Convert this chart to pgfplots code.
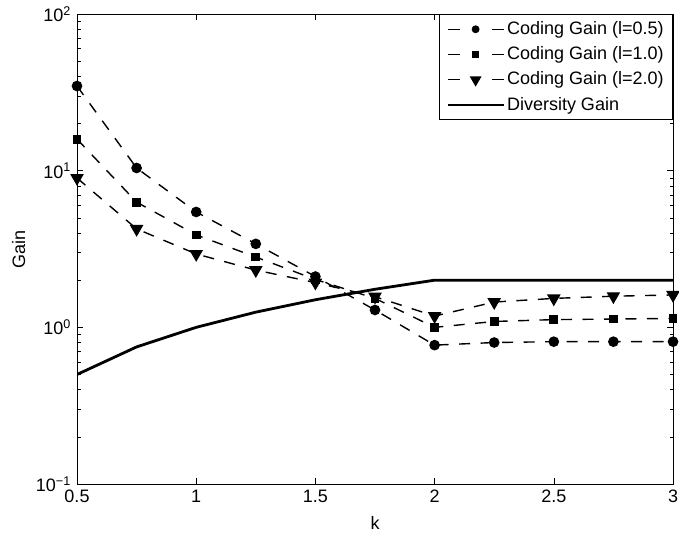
\documentclass[border=0pt]{standalone}
\usepackage{fontspec}
\setmainfont{Liberation Sans}
\usepackage{pgfplots}
\pgfplotsset{compat=1.18}
\newcommand{\ff}{\fontsize{18}{21.6}\selectfont}
\pgfplotsset{
  legdash/.style={legend image code/.code={\draw[##1, dash pattern=on 12pt off 32pt] (0pt,0pt) -- (56pt,0pt); \draw[##1, solid, mark size=#1] plot coordinates {(28pt,0pt)};}},
  legsolid/.style={legend image code/.code={\draw[##1] (0pt,0pt) -- (56pt,0pt);}},
}
\begin{document}
\ff
\begin{tikzpicture}
\path[use as bounding box] (-77pt,-54pt) rectangle (602pt,484pt);
\begin{axis}[
  scale only axis, width=596pt, height=470pt,
  ymode=log, xmin=0.5, xmax=3, ymin=0.1, ymax=100,
  xtick={0.5,1,1.5,2,2.5,3}, xticklabels={0.5,1,1.5,2,2.5,3},
  ytick={0.1,1,10,100},
  yticklabels={10\textsuperscript{−1},10\textsuperscript{0},10\textsuperscript{1},10\textsuperscript{2}},
  minor ytick={0.2,0.3,0.4,0.5,0.6,0.7,0.8,0.9,2,3,4,5,6,7,8,9,20,30,40,50,60,70,80,90},
  tick align=inside,
  major tick length=6pt, minor tick length=3.5pt,
  every tick/.style={black, line width=0.6pt},
  axis line style={line width=0.8pt},
  tick label style={font=\ff},
  label style={font=\ff},
  xlabel={k}, ylabel={Gain},
  xlabel style={at={(axis description cs:0.5,-0.083)}, anchor=center},
  ylabel style={at={(axis description cs:-0.098,0.5)}, anchor=center},
  legend style={at={(1,1)}, anchor=north east, draw=black, line width=0.8pt, font=\ff,
    row sep=5.5pt, inner xsep=7pt, inner ysep=5pt},
  legend cell align=left,
]
\addplot[black, line width=1.4pt, dash pattern=on 11pt off 10.5pt, mark=*, mark size=4.6pt, mark options={solid}, legdash=3.2pt]
coordinates {(0.5,34.7) (0.75,10.4) (1,5.45) (1.25,3.41) (1.5,2.11) (1.75,1.29) (2,0.77) (2.25,0.80) (2.5,0.81) (2.75,0.81) (3,0.81)};
\addlegendentry{Coding Gain (l=0.5)}
\addplot[black, line width=1.4pt, dash pattern=on 11pt off 10.5pt, mark=square*, mark size=3.7pt, mark options={solid}, legdash=2.7pt]
coordinates {(0.5,15.9) (0.75,6.3) (1,3.89) (1.25,2.81) (1.5,2.02) (1.75,1.53) (2,1.0) (2.25,1.09) (2.5,1.12) (2.75,1.13) (3,1.14)};
\addlegendentry{Coding Gain (l=1.0)}
\addplot[black, line width=1.4pt, dash pattern=on 11pt off 10.5pt, mark=triangle*, mark size=6.5pt, mark options={solid, rotate=180}, legdash=5.5pt]
coordinates {(0.5,8.98) (0.75,4.25) (1,2.94) (1.25,2.32) (1.5,1.93) (1.75,1.57) (2,1.18) (2.25,1.45) (2.5,1.53) (2.75,1.58) (3,1.61)};
\addlegendentry{Coding Gain (l=2.0)}
\addplot[black, line width=2.8pt, legsolid]
coordinates {(0.5,0.5) (0.75,0.75) (1,1) (1.25,1.25) (1.5,1.5) (1.75,1.75) (2,2) (2.25,2) (2.5,2) (2.75,2) (3,2)};
\addlegendentry{Diversity Gain}
\end{axis}
\end{tikzpicture}
\end{document}
